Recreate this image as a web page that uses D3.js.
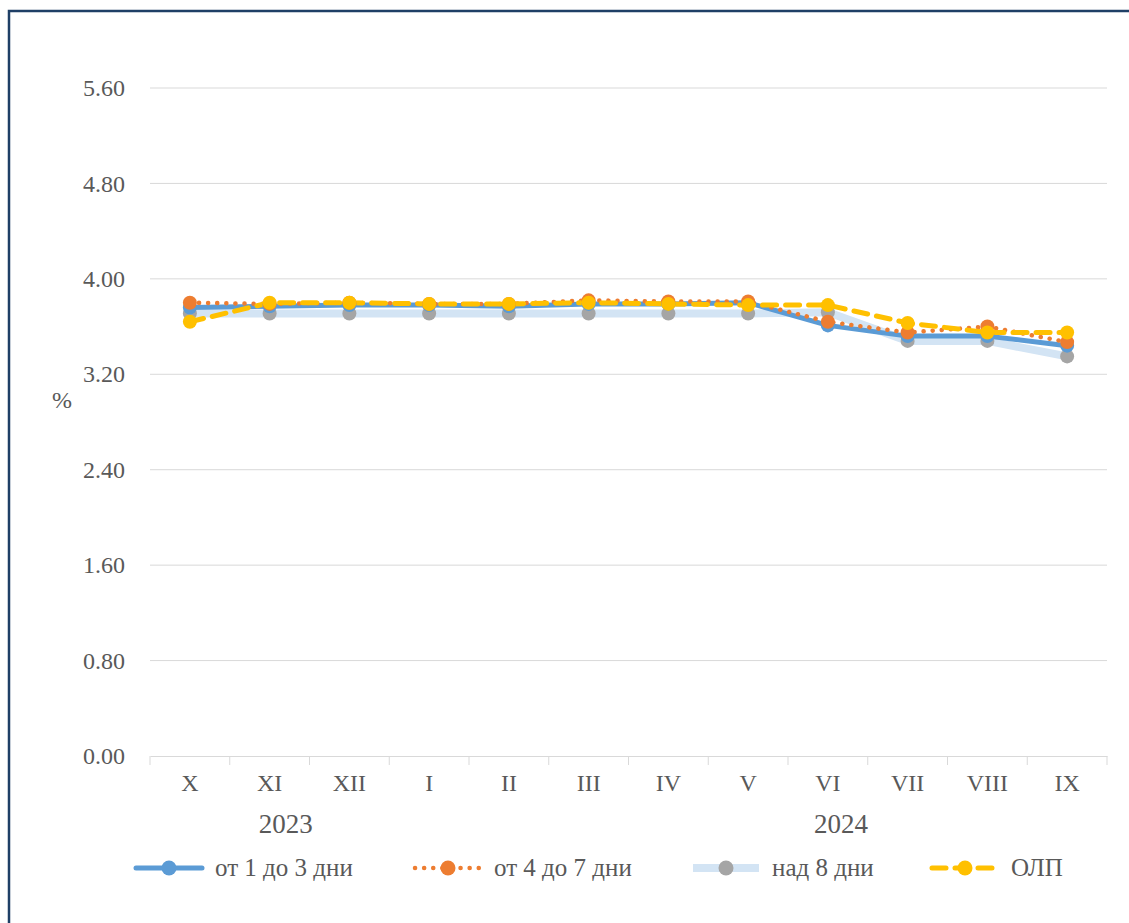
<!DOCTYPE html>
<html>
<head>
<meta charset="utf-8">
<script src="https://cdn.jsdelivr.net/npm/d3@7"></script>
<style>
  body { margin: 0; background: #fff; }
  svg { display: block; font-family: "Liberation Serif", "Times New Roman", serif; }
</style>
</head>
<body>
<div id="chart"></div>
<script>
// data
const months = ["X", "XI", "XII", "I", "II", "III", "IV", "V", "VI", "VII", "VIII", "IX"];
const years = [{label: "2023", month: "XI"}, {label: "2024", month: "VI"}];
const yTicks = [0, 0.8, 1.6, 2.4, 3.2, 4.0, 4.8, 5.6];

const days1to3 = [3.76, 3.77, 3.78, 3.78, 3.77, 3.79, 3.79, 3.80, 3.61, 3.52, 3.52, 3.44];
const days4to7 = [3.80, 3.79, 3.80, 3.79, 3.79, 3.82, 3.81, 3.81, 3.64, 3.55, 3.60, 3.47];
const days8plus = [3.71, 3.71, 3.71, 3.71, 3.71, 3.71, 3.71, 3.71, 3.72, 3.48, 3.48, 3.35];
const olp = [3.64, 3.80, 3.80, 3.79, 3.79, 3.80, 3.79, 3.78, 3.78, 3.63, 3.55, 3.55];

const series = [
  {name: "над 8 дни", values: days8plus, line: "#d3e4f4", width: 8, dash: null, marker: "#a5a5a5", cap: "butt", lx: 689},
  {name: "от 1 до 3 дни", values: days1to3, line: "#5b9bd5", width: 5, dash: null, marker: "#5b9bd5", cap: "round", lx: 132},
  {name: "от 4 до 7 дни", values: days4to7, line: "#ed7d31", width: 4.5, dash: "0.1 9", marker: "#ed7d31", cap: "round", lx: 411},
  {name: "ОЛП", values: olp, line: "#ffc000", width: 5, dash: "14 9", marker: "#ffc000", cap: "round", lx: 928}
];

const width = 1129, height = 923;
const margin = {top: 88, right: 22, bottom: 167, left: 150};

const svg = d3.select("#chart").append("svg")
  .attr("width", width)
  .attr("height", height);

// frame
svg.append("path")
  .attr("d", `M9,${height} V11 H${width}`)
  .attr("fill", "none")
  .attr("stroke", "#1f3f66")
  .attr("stroke-width", 2.5);

const x = d3.scaleBand()
  .domain(months)
  .range([margin.left, width - margin.right]);

const y = d3.scaleLinear()
  .domain([0, 5.6])
  .range([height - margin.bottom, margin.top]);

const cx = m => x(m) + x.bandwidth() / 2;

// gridlines
svg.append("g")
  .selectAll("line")
  .data(yTicks.filter(d => d > 0))
  .join("line")
  .attr("x1", margin.left)
  .attr("x2", width - margin.right)
  .attr("y1", d => y(d))
  .attr("y2", d => y(d))
  .attr("stroke", "#d9d9d9")
  .attr("stroke-width", 1);

// y axis labels
const yAxis = d3.axisLeft(y)
  .tickValues(yTicks)
  .tickFormat(d3.format(".2f"))
  .tickSize(0)
  .tickPadding(25);

svg.append("g")
  .attr("transform", `translate(${margin.left},0)`)
  .call(yAxis)
  .call(g => g.select(".domain").remove())
  .call(g => g.selectAll("text")
    .attr("fill", "#595959")
    .style("font-size", "24px")
    .style("font-family", "Liberation Serif, serif"));

svg.append("text")
  .attr("x", 62)
  .attr("y", 408)
  .attr("text-anchor", "middle")
  .attr("fill", "#595959")
  .style("font-size", "24px")
  .text("%");

// x axis
const xAxis = d3.axisBottom(x).tickSize(0).tickPadding(18);
svg.append("g")
  .attr("transform", `translate(0,${y(0)})`)
  .call(xAxis)
  .call(g => g.select(".domain").attr("stroke", "#d9d9d9"))
  .call(g => g.selectAll("text")
    .attr("fill", "#595959")
    .style("font-size", "24px")
    .style("font-family", "Liberation Serif, serif"));

// category separators
svg.append("g")
  .selectAll("line")
  .data(months.map(m => x(m)).concat([x.range()[1]]))
  .join("line")
  .attr("x1", d => d)
  .attr("x2", d => d)
  .attr("y1", y(0))
  .attr("y2", y(0) + 9)
  .attr("stroke", "#d9d9d9");

// year labels
const yearOffset = {"2023": 16, "2024": 13};
svg.append("g")
  .selectAll("text")
  .data(years)
  .join("text")
  .attr("x", d => cx(d.month) + yearOffset[d.label])
  .attr("y", y(0) + 77)
  .attr("text-anchor", "middle")
  .attr("fill", "#595959")
  .style("font-size", "27px")
  .text(d => d.label);

// lines
const line = d3.line()
  .x((d, i) => cx(months[i]))
  .y(d => y(d));

svg.append("g")
  .selectAll("path")
  .data(series)
  .join("path")
  .attr("d", d => line(d.values))
  .attr("fill", "none")
  .attr("stroke", d => d.line)
  .attr("stroke-width", d => d.width)
  .attr("stroke-dasharray", d => d.dash)
  .attr("stroke-linecap", d => d.cap)
  .attr("stroke-linejoin", "round");

// markers
series.forEach(s => {
  svg.append("g")
    .selectAll("circle")
    .data(s.values)
    .join("circle")
    .attr("cx", (d, i) => cx(months[i]))
    .attr("cy", d => y(d))
    .attr("r", 7)
    .attr("fill", s.marker);
});

// legend
const legendY = 868;
const legendOrder = [series[1], series[2], series[0], series[3]];
const lg = svg.append("g")
  .selectAll("g")
  .data(legendOrder)
  .join("g")
  .attr("transform", d => `translate(${d.lx},${legendY})`);

lg.append("line")
  .attr("x1", 4)
  .attr("x2", 70)
  .attr("stroke", d => d.line)
  .attr("stroke-width", d => d.width)
  .attr("stroke-dasharray", d => d.dash)
  .attr("stroke-linecap", d => d.cap);

lg.append("circle")
  .attr("cx", 37)
  .attr("r", 7.5)
  .attr("fill", d => d.marker);

lg.append("text")
  .attr("x", 83)
  .attr("y", 8)
  .attr("fill", "#595959")
  .style("font-size", "25px")
  .text(d => d.name);
</script>
</body>
</html>
